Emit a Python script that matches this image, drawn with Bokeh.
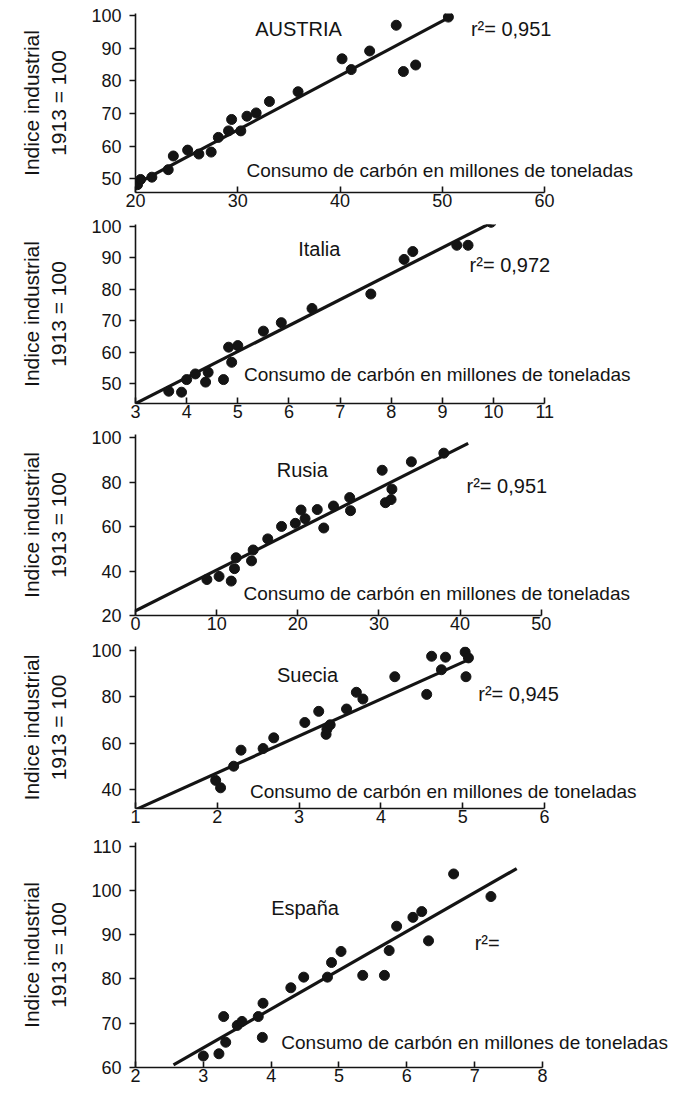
from bokeh.plotting import figure
from bokeh.models import FixedTicker, Range1d
from bokeh.layouts import column
from bokeh.embed import file_html
from bokeh.resources import INLINE
from bokeh.core.properties import value

FONT = "Liberation Sans"
INK = "#141414"

# ---------------- data ----------------
x_caption = "Consumo de carbón en millones de toneladas"
y_caption = "Indice industrial\n1913 = 100"

countries = ["AUSTRIA", "Italia", "Rusia", "Suecia", "España"]
r2_texts = ["r²= 0,951", "r²= 0,972", "r²= 0,951", "r²= 0,945", "r²="]

austria_coal = [20.2, 20.5, 21.6, 23.2, 23.7, 25.1, 26.2, 27.4, 28.1, 29.1, 29.4, 30.3,
                30.9, 31.8, 33.1, 35.9, 40.2, 41.1, 42.9, 45.5, 46.2, 47.4, 50.6]
austria_index = [48.2, 49.8, 50.5, 52.8, 57.0, 58.8, 57.6, 58.2, 62.7, 64.7, 68.2, 64.7,
                 69.2, 70.2, 73.7, 76.7, 86.8, 83.5, 89.2, 97.1, 82.9, 84.9, 99.6]
austria_fit_x = [20.0, 50.5]
austria_fit_y = [48.3, 99.2]
austria_xticks = [20, 30, 40, 50, 60]
austria_yticks = [50, 60, 70, 80, 90, 100]

italia_coal = [3.65, 3.9, 4.0, 4.17, 4.37, 4.42, 4.72, 4.82, 4.88, 5.0, 5.5, 5.85,
               6.45, 7.6, 8.25, 8.42, 9.28, 9.5, 9.95]
italia_index = [47.6, 47.3, 51.3, 53.1, 50.5, 53.6, 51.3, 61.6, 56.8, 62.1, 66.7, 69.4,
                73.9, 78.5, 89.5, 92.0, 94.0, 94.0, 101.3]
italia_fit_x = [3.0, 10.0]
italia_fit_y = [43.7, 101.5]
italia_xticks = [3, 4, 5, 6, 7, 8, 9, 10, 11]
italia_yticks = [50, 60, 70, 80, 90, 100]

rusia_coal = [8.8, 10.3, 11.8, 12.2, 12.4, 14.3, 14.5, 16.3, 18.0, 19.7, 20.4, 20.9,
              22.4, 23.2, 24.4, 26.4, 26.5, 30.4, 30.8, 31.5, 31.6, 34.0, 38.0]
rusia_index = [36.2, 37.6, 35.5, 41.1, 46.0, 44.6, 49.5, 54.5, 60.1, 61.5, 67.5, 63.6,
               67.7, 59.4, 69.3, 73.1, 67.2, 85.4, 70.8, 72.2, 76.9, 89.2, 93.1]
rusia_fit_x = [0.0, 41.0]
rusia_fit_y = [22.1, 97.5]
rusia_xticks = [0, 10, 20, 30, 40, 50]
rusia_yticks = [20, 40, 60, 80, 100]

suecia_coal = [1.98, 2.04, 2.2, 2.29, 2.56, 2.69, 3.07, 3.24, 3.33, 3.34, 3.38, 3.58,
               3.70, 3.78, 4.17, 4.56, 4.62, 4.74, 4.79, 5.03, 5.04, 5.07]
suecia_index = [44.1, 40.9, 50.2, 57.1, 57.8, 62.4, 69.0, 73.8, 63.9, 66.1, 68.0, 74.8,
                82.0, 79.1, 88.7, 81.1, 97.5, 91.7, 97.1, 99.3, 88.7, 96.8]
suecia_fit_x = [1.0, 5.1]
suecia_fit_y = [31.5, 96.5]
suecia_xticks = [1, 2, 3, 4, 5, 6]
suecia_yticks = [40, 60, 80, 100]

espana_coal = [3.0, 3.23, 3.3, 3.33, 3.5, 3.57, 3.81, 3.87, 3.88, 4.29, 4.48, 4.83,
               4.89, 5.03, 5.35, 5.67, 5.74, 5.85, 6.09, 6.22, 6.32, 6.69, 7.24]
espana_index = [62.6, 63.1, 71.5, 65.7, 69.5, 70.4, 71.5, 66.8, 74.5, 78.0, 80.4, 80.4,
                83.7, 86.2, 80.8, 80.8, 86.4, 91.9, 93.9, 95.2, 88.6, 103.7, 98.6]
espana_fit_x = [2.56, 7.62]
espana_fit_y = [60.6, 104.9]
espana_xticks = [2, 3, 4, 5, 6, 7, 8]
espana_yticks = [60, 70, 80, 90, 100, 110]

# ---------------- layout (pixels / positions) ----------------
FIG_W = 670
PAGE_MARGIN = 8

panels = [
    dict(name=countries[0], r2=r2_texts[0], x=austria_coal, y=austria_index,
         fx=austria_fit_x, fy=austria_fit_y, xt=austria_xticks, yt=austria_yticks,
         frame_left=143, xscale=10.225, yr=(45.8, 100.7), tb=13, fh=179, bb=24,
         title_at=(31.7, 95.8), r2_at=(52.8, 95.8), cap_at=(30.85, 52.5)),
    dict(name=countries[1], r2=r2_texts[1], x=italia_coal, y=italia_index,
         fx=italia_fit_x, fy=italia_fit_y, xt=italia_xticks, yt=italia_yticks,
         frame_left=141, xscale=51.16, yr=(43.7, 100.6), tb=8, fh=179, bb=21,
         title_at=(6.18, 92.7), r2_at=(9.53, 87.6), cap_at=(5.12, 52.9)),
    dict(name=countries[2], r2=r2_texts[2], x=rusia_coal, y=rusia_index,
         fx=rusia_fit_x, fy=rusia_fit_y, xt=rusia_xticks, yt=rusia_yticks,
         frame_left=138, xscale=8.114, yr=(20.0, 101.5), tb=10, fh=181, bb=21,
         title_at=(17.4, 85.3), r2_at=(40.8, 78.2), cap_at=(13.3, 29.7)),
    dict(name=countries[3], r2=r2_texts[3], x=suecia_coal, y=suecia_index,
         fx=suecia_fit_x, fy=suecia_fit_y, xt=suecia_xticks, yt=suecia_yticks,
         frame_left=135, xscale=81.8, yr=(32.0, 101.7), tb=10, fh=162, bb=24,
         title_at=(2.73, 89.4), r2_at=(5.19, 81.1), cap_at=(2.4, 39.4)),
    dict(name=countries[4], r2=r2_texts[4], x=espana_coal, y=espana_index,
         fx=espana_fit_x, fy=espana_fit_y, xt=espana_xticks, yt=espana_yticks,
         frame_left=132, xscale=67.83, yr=(60.0, 110.8), tb=10, fh=225, bb=24,
         title_at=(4.0, 95.9), r2_at=(7.0, 88.0), cap_at=(4.15, 65.7)),
]


def make_panel(s):
    border_left = s["frame_left"] - PAGE_MARGIN
    fw = FIG_W - border_left
    x0 = s["xt"][0]
    x_end = x0 + fw / s["xscale"]
    p = figure(frame_width=fw, frame_height=s["fh"],
               x_range=Range1d(x0, x_end), y_range=Range1d(*s["yr"]),
               output_backend="svg", toolbar_location=None,
               min_border_left=border_left, min_border_right=0,
               min_border_top=s["tb"], min_border_bottom=s["bb"])
    p.outline_line_color = None
    p.background_fill_color = "white"
    p.border_fill_color = "white"
    p.xgrid.visible = False
    p.ygrid.visible = False

    xa = p.xaxis[0]
    xa.ticker = FixedTicker(ticks=s["xt"])
    xa.bounds = (s["xt"][0], s["xt"][-1])
    xa.axis_line_width = 1.6
    xa.axis_line_color = INK
    xa.major_tick_line_color = INK
    xa.major_tick_line_width = 1.6
    xa.major_tick_in = 6
    xa.major_tick_out = 0
    xa.minor_tick_line_color = None
    xa.major_label_standoff = 1
    xa.major_label_text_font = FONT
    xa.major_label_text_font_size = "18px"
    xa.major_label_text_color = INK

    ya = p.yaxis[0]
    ya.ticker = FixedTicker(ticks=s["yt"])
    ya.axis_line_width = 1.6
    ya.axis_line_color = INK
    ya.major_tick_line_color = INK
    ya.major_tick_line_width = 1.6
    ya.major_tick_in = 0
    ya.major_tick_out = 6
    ya.minor_tick_line_color = None
    ya.major_label_standoff = 8
    ya.major_label_text_font = FONT
    ya.major_label_text_font_size = "18px"
    ya.major_label_text_color = INK
    ya.axis_label = y_caption
    ya.axis_label_text_font = FONT
    ya.axis_label_text_font_size = "21px"
    ya.axis_label_text_font_style = "normal"
    ya.axis_label_text_color = INK
    ya.axis_label_standoff = 18

    p.line(s["fx"], s["fy"], line_width=3.2, line_color=INK)
    p.scatter(s["x"], s["y"], size=10, fill_color=INK, line_color=INK)

    p.text(x=[s["title_at"][0], s["r2_at"][0]], y=[s["title_at"][1], s["r2_at"][1]],
           text=[s["name"], s["r2"]], text_font=value(FONT), text_font_size="20px",
           text_baseline="middle", text_align="left", text_color=INK)
    p.text(x=[s["cap_at"][0]], y=[s["cap_at"][1]], text=[x_caption],
           text_font=value(FONT), text_font_size="19px",
           text_baseline="middle", text_align="left", text_color=INK)
    return p


figs = [make_panel(s) for s in panels]
layout = column(*figs, spacing=0)

open("out.html", "w").write(file_html(layout, INLINE))
